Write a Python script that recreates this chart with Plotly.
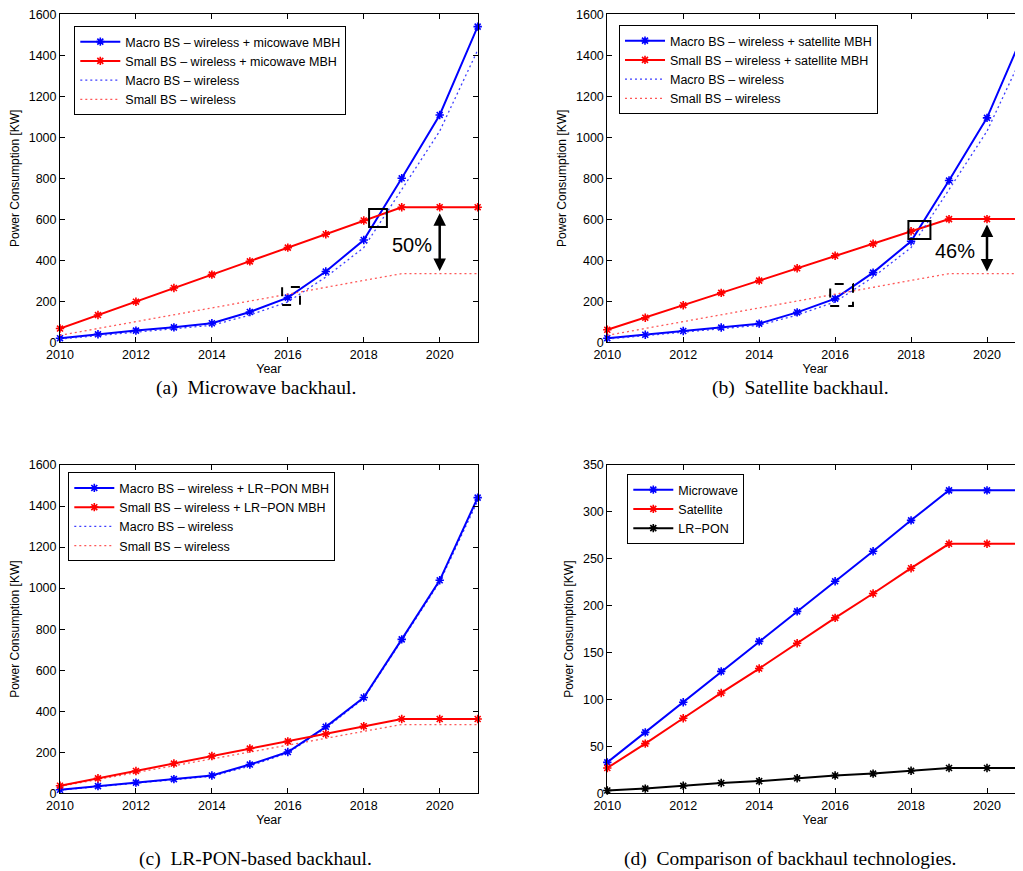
import plotly.graph_objects as go

# ---------------- data ----------------
years = [2010, 2011, 2012, 2013, 2014, 2015, 2016, 2017, 2018, 2019, 2020, 2021]

macro_wireless = [16, 33, 50, 66, 83, 133, 197, 318, 462, 745, 1030, 1425]
small_wireless = [34, 67, 101, 134, 168, 201, 235, 268, 302, 335, 335, 335]

macro_mw = [20, 39, 57, 73, 93, 148, 218, 345, 499, 800, 1109, 1540]
small_mw = [67, 133, 198, 265, 330, 395, 462, 527, 594, 659, 659, 659]

macro_sat = [20, 37, 55, 72, 91, 146, 213, 340, 493, 789, 1095, 1524]
small_sat = [61, 120, 181, 241, 301, 361, 422, 481, 542, 601, 601, 601]

macro_lrpon = [17, 35, 52, 69, 87, 140, 201, 324, 467, 750, 1038, 1441]
small_lrpon = [37, 73, 109, 145, 182, 218, 253, 289, 327, 362, 362, 362]

bh_microwave = [33, 65, 97, 130, 162, 194, 226, 258, 291, 323, 323, 323]
bh_satellite = [27, 53, 80, 107, 133, 160, 187, 213, 240, 266, 266, 266]
bh_lrpon = [3, 5, 8, 11, 13, 16, 19, 21, 24, 27, 27, 27]

x_ticks = [2010, 2012, 2014, 2016, 2018, 2020]

captions = ["(a)  Microwave backhaul.", "(b)  Satellite backhaul.",
            "(c)  LR-PON-based backhaul.", "(d)  Comparison of backhaul technologies."]

# ---------------- layout helpers ----------------
OFF = 8  # page body margin of the browser
VW, VH = 1023, 871  # browser window
W, H = VW - OFF, VH - OFF
SANS = "Liberation Sans"
SERIF = "Liberation Serif"
BLUE = "rgb(0,0,255)"
RED = "rgb(255,0,0)"
BLACK = "rgb(0,0,0)"
BLUE_DOT = "rgba(40,40,255,0.9)"
RED_DOT = "rgba(255,70,70,0.9)"
DOT = "2px,3px"


def fx(p):
    return (p - OFF) / W


def fy(p):
    return 1 - (p - OFF) / H


fig = go.Figure()


def solid(x, y, name, color, xa, ya, lg):
    fig.add_trace(go.Scatter(
        x=x, y=y, name=name, mode="lines+markers",
        line=dict(color=color, width=2),
        marker=dict(symbol="asterisk", size=7, color=color,
                    line=dict(color=color, width=1.6)),
        xaxis=xa, yaxis=ya, legend=lg, cliponaxis=False))


def dotted(x, y, name, color, xa, ya, lg):
    fig.add_trace(go.Scatter(
        x=x, y=y, name=name, mode="lines",
        line=dict(color=color, width=1.3, dash=DOT),
        xaxis=xa, yaxis=ya, legend=lg))


DASH = "\u2013"
MIN = "\u2212"

# panel (a)
solid(years, macro_mw, f"Macro BS {DASH} wireless + micowave MBH", BLUE, "x", "y", "legend")
solid(years, small_mw, f"Small BS {DASH} wireless + micowave MBH", RED, "x", "y", "legend")
dotted(years, macro_wireless, f"Macro BS {DASH} wireless", BLUE_DOT, "x", "y", "legend")
dotted(years, small_wireless, f"Small BS {DASH} wireless", RED_DOT, "x", "y", "legend")

# panel (b)
solid(years, macro_sat, f"Macro BS {DASH} wireless + satellite MBH", BLUE, "x2", "y2", "legend2")
solid(years, small_sat, f"Small BS {DASH} wireless + satellite MBH", RED, "x2", "y2", "legend2")
dotted(years, macro_wireless, f"Macro BS {DASH} wireless", BLUE_DOT, "x2", "y2", "legend2")
dotted(years, small_wireless, f"Small BS {DASH} wireless", RED_DOT, "x2", "y2", "legend2")

# panel (c)
dotted(years, macro_wireless, f"Macro BS {DASH} wireless", BLUE_DOT, "x3", "y3", "legend3")
dotted(years, small_wireless, f"Small BS {DASH} wireless", RED_DOT, "x3", "y3", "legend3")
solid(years, macro_lrpon, f"Macro BS {DASH} wireless + LR{MIN}PON MBH", BLUE, "x3", "y3", "legend3")
solid(years, small_lrpon, f"Small BS {DASH} wireless + LR{MIN}PON MBH", RED, "x3", "y3", "legend3")

# panel (d)
solid(years, bh_microwave, "Microwave", BLUE, "x4", "y4", "legend4")
solid(years, bh_satellite, "Satellite", RED, "x4", "y4", "legend4")
solid(years, bh_lrpon, f"LR{MIN}PON", BLACK, "x4", "y4", "legend4")

# ---------------- axes ----------------
common = dict(showline=True, linecolor="black", linewidth=1, mirror="ticks",
              ticks="inside", ticklen=5, tickwidth=1, tickcolor="black",
              showgrid=False, zeroline=False, automargin=False,
              ticklabeloverflow="allow",
              tickfont=dict(family=SANS, size=12.5, color="black"))

px_per_year = 37.97
left_x = (60, 60 + 11 * px_per_year)
right_x = (607.3, VW)
right_end = 2010 + (VW - right_x[0]) / px_per_year
top_y = (14.3, 342.3)
bot_y = (465, 793.3)


def xax(dom, rng, anchor):
    return dict(common, domain=[fx(dom[0]), min(1.0, fx(dom[1]))], range=rng, anchor=anchor,
                tickvals=x_ticks, ticklabelstandoff=1,
                title=dict(text="Year", font=dict(family=SANS, size=12.5, color="black"), standoff=2))


def yax(dom, rng, dt, anchor):
    return dict(common, domain=[fy(dom[1]), fy(dom[0])], range=rng, dtick=dt, tick0=0, anchor=anchor,
                title=dict(text="Power Consumption [KW]", font=dict(family=SANS, size=12, color="black"),
                           standoff=6))


legend_common = dict(bgcolor="white", bordercolor="black", borderwidth=1,
                     font=dict(family=SANS, size=12.5, color="black"),
                     xanchor="left", yanchor="top", tracegroupgap=0, itemwidth=40)

fig.update_layout(
    template="none",
    width=W, height=H,
    margin=dict(l=0, r=0, t=0, b=0, pad=0),
    paper_bgcolor="white", plot_bgcolor="white",
    font=dict(family=SANS, color="black"),
    xaxis=xax(left_x, [2010, 2021], "y"),
    yaxis=yax(top_y, [0, 1600], 200, "x"),
    xaxis2=xax(right_x, [2010, right_end], "y2"),
    yaxis2=yax(top_y, [0, 1600], 200, "x2"),
    xaxis3=xax(left_x, [2010, 2021], "y3"),
    yaxis3=yax(bot_y, [0, 1600], 200, "x3"),
    xaxis4=xax(right_x, [2010, right_end], "y4"),
    yaxis4=yax(bot_y, [0, 350], 50, "x4"),
    legend=dict(legend_common, x=fx(74.3), y=fy(26)),
    legend2=dict(legend_common, x=fx(619), y=fy(25)),
    legend3=dict(legend_common, x=fx(68.3), y=fy(472.3)),
    legend4=dict(legend_common, x=fx(627.3), y=fy(474)),
)

# legend order for panel (c): solid entries first
for tr in fig.data:
    if tr.legend == "legend3":
        tr.legendrank = 1 if "MBH" in tr.name else 2

# ---------------- annotations ----------------
ann = []
cap_pos = [(256, 388), (800, 388), (255, 859), (790, 859)]
for text, (cx, cy) in zip(captions, cap_pos):
    ann.append(dict(text=text, x=fx(cx), y=fy(cy), xref="paper", yref="paper",
                    showarrow=False, xanchor="center", yanchor="middle",
                    font=dict(family=SERIF, size=19.5, color="black")))

# double arrows
for xr, yr, top, bot in [("x", "y", 630, 340), ("x2", "y2", 575, 338)]:
    ann.append(dict(x=2020, y=top, ax=2020, ay=bot, xref=xr, yref=yr, axref=xr, ayref=yr,
                    showarrow=True, text="", arrowhead=2, startarrowhead=2, arrowside="end+start",
                    arrowwidth=2.5, arrowsize=1, startarrowsize=1, arrowcolor="black",
                    standoff=0, startstandoff=0))

ann.append(dict(text="50%", x=2019.26, y=475, xref="x", yref="y", showarrow=False,
                font=dict(family=SANS, size=20, color="black")))
ann.append(dict(text="46%", x=2019.16, y=445, xref="x2", yref="y2", showarrow=False,
                font=dict(family=SANS, size=20, color="black")))
fig.update_layout(annotations=ann)

# highlight boxes
shapes = [
    dict(type="rect", xref="x", yref="y", x0=2018.14, x1=2018.61, y0=562, y1=650,
         line=dict(color="black", width=2)),
    dict(type="rect", xref="x", yref="y", x0=2015.85, x1=2016.32, y0=182, y1=270,
         line=dict(color="black", width=2, dash="dash")),
    dict(type="rect", xref="x2", yref="y2", x0=2017.93, x1=2018.51, y0=504, y1=592,
         line=dict(color="black", width=2)),
    dict(type="rect", xref="x2", yref="y2", x0=2015.87, x1=2016.47, y0=177, y1=284,
         line=dict(color="black", width=2, dash="dash")),
]
fig.update_layout(shapes=shapes)

fig.write_html("out.html")
